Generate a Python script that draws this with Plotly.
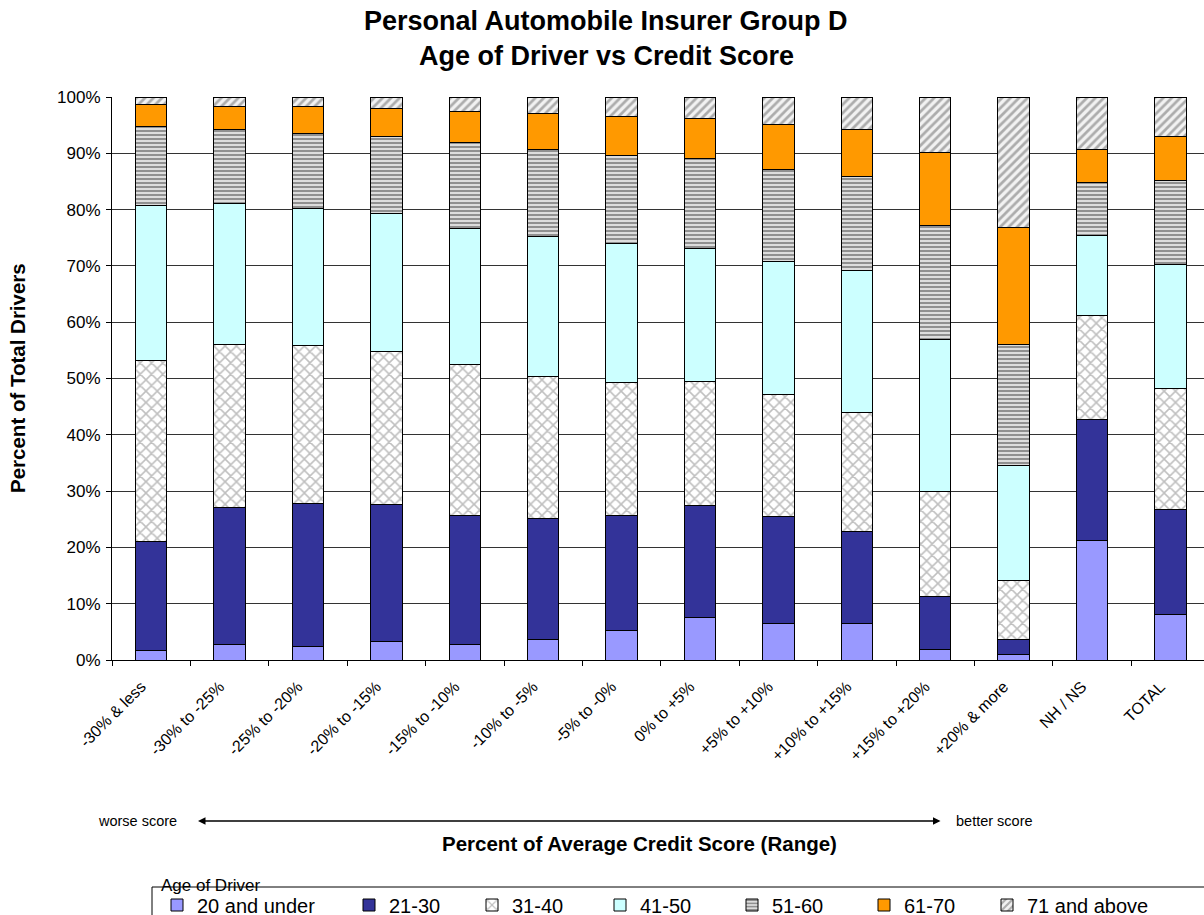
import plotly.graph_objects as go

# Credit score ranges (x categories)
categories = [
    "-30% & less", "-30% to -25%", "-25% to -20%", "-20% to -15%",
    "-15% to -10%", "-10% to -5%", "-5% to -0%", "0% to +5%",
    "+5% to +10%", "+10% to +15%", "+15% to +20%", "+20% & more",
    "NH / NS", "TOTAL",
]

# Share of drivers (%) in each age band, per credit score range
age_20_and_under = [1.7, 2.7, 2.4, 3.2, 2.8, 3.6, 5.3, 7.5, 6.5, 6.5, 1.9, 0.9, 21.2, 8.1]
age_21_30 = [19.3, 24.4, 25.4, 24.5, 22.9, 21.5, 20.4, 20.0, 19.0, 16.3, 9.4, 2.8, 21.6, 18.7]
age_31_40 = [32.2, 28.9, 28.0, 27.1, 26.8, 25.3, 23.6, 22.0, 21.7, 21.2, 18.7, 10.5, 18.4, 21.5]
age_41_50 = [27.5, 25.1, 24.4, 24.5, 24.2, 24.8, 24.6, 23.6, 23.5, 25.1, 26.9, 20.4, 14.2, 22.0]
age_51_60 = [14.1, 13.2, 13.4, 13.7, 15.2, 15.5, 15.7, 15.9, 16.5, 16.8, 20.3, 21.4, 9.5, 14.8]
age_61_70 = [3.9, 4.0, 4.8, 5.0, 5.5, 6.3, 6.9, 7.2, 8.0, 8.3, 13.0, 20.9, 5.8, 7.9]
age_71_above = [1.3, 1.7, 1.6, 2.0, 2.6, 3.0, 3.5, 3.8, 4.8, 5.8, 9.8, 23.1, 9.3, 7.0]

series_names = ["20 and under", "21-30", "31-40", "41-50", "51-60", "61-70", "71 and above"]
series_values = [age_20_and_under, age_21_30, age_31_40, age_41_50, age_51_60, age_61_70, age_71_above]

FONT = "Arial, 'Liberation Sans', sans-serif"
W, H = 1204, 915
L_M, R_M, T_M, B_M = 112, 0, 97, 255
PW = W - L_M - R_M
PH = H - T_M - B_M


def px_x(px):
    return (px - L_M) / PW


def px_y(py):
    return (H - B_M - py) / PH


styles = [
    dict(color="#9999FF"),
    dict(color="#333399"),
    dict(color="#FFFFFF", pattern=dict(shape="x", fgcolor="#808080", bgcolor="#FFFFFF", size=8, solidity=0.35)),
    dict(color="#CCFFFF"),
    dict(color="#BBBBBB", pattern=dict(shape="-", fgcolor="#444444", bgcolor="#DDDDDD", size=4, solidity=0.5)),
    dict(color="#FF9900"),
    dict(color="#EEEEEE", pattern=dict(shape="/", fgcolor="#666666", bgcolor="#F2F2F2", size=6, solidity=0.45)),
]

# legend entry text start positions (px)
legend_text_x = [195, 387, 510, 638, 770, 902, 1025]

fig = go.Figure()
for i, (name, vals, st) in enumerate(zip(series_names, series_values, styles)):
    marker = dict(color=st["color"], line=dict(color="black", width=1))
    if "pattern" in st:
        marker["pattern"] = st["pattern"]
    fig.add_trace(go.Bar(
        x=categories, y=vals, name=name, marker=marker, width=0.4,
        showlegend=True,
        legend="legend" if i == 0 else f"legend{i + 1}",
    ))

legend_layout = {}
for i, tx in enumerate(legend_text_x):
    key = "legend" if i == 0 else f"legend{i + 1}"
    legend_layout[key] = dict(
        orientation="h", x=px_x(tx - 38), xanchor="left",
        y=px_y(905), yanchor="middle",
        font=dict(family=FONT, size=20, color="black"),
        bgcolor="rgba(0,0,0,0)", borderwidth=0,
    )

fig.update_layout(
    width=W, height=H, autosize=False,
    margin=dict(l=L_M, r=R_M, t=T_M, b=B_M, pad=0, autoexpand=False),
    paper_bgcolor="white", plot_bgcolor="white",
    barmode="stack", bargap=0.6, showlegend=True,
    font=dict(family=FONT, color="black"),
    **legend_layout,
)

fig.update_xaxes(
    type="category", range=[-0.5, -0.5 + PW / 78.4],
    showline=True, linecolor="black", linewidth=1,
    ticks="outside", tickson="boundaries", ticklen=5, tickcolor="black",
    tickangle=-45, tickfont=dict(family=FONT, size=16, color="black"),
    ticklabelstandoff=10, ticklabelshift=-10,
    showgrid=False, zeroline=False,
)
fig.update_yaxes(
    range=[0, 100], dtick=10, ticksuffix="%",
    showline=True, linecolor="black", linewidth=1,
    ticks="outside", ticklen=5, tickcolor="black",
    tickfont=dict(family=FONT, size=17, color="black"),
    ticklabelstandoff=2,
    showgrid=True, gridcolor="#333333", gridwidth=1, zeroline=False,
)

annotations = [
    dict(text="<b>Personal Automobile Insurer Group D</b>", x=px_x(606), xref="paper",
         y=px_y(21), yref="paper", xanchor="center", yanchor="middle",
         showarrow=False, font=dict(family=FONT, size=27, color="black")),
    dict(text="<b>Age of Driver vs Credit Score</b>", x=px_x(606), xref="paper",
         y=px_y(56), yref="paper", xanchor="center", yanchor="middle",
         showarrow=False, font=dict(family=FONT, size=27, color="black")),
    dict(text="<b>Percent of Total Drivers</b>", x=px_x(17), xref="paper",
         y=px_y(378), yref="paper", xanchor="center", yanchor="middle",
         textangle=-90, showarrow=False, font=dict(family=FONT, size=20.5, color="black")),
    dict(text="<b>Percent of Average Credit Score (Range)</b>", x=px_x(639), xref="paper",
         y=px_y(843), yref="paper", xanchor="center", yanchor="middle",
         showarrow=False, font=dict(family=FONT, size=20.5, color="black")),
    dict(text="worse score", x=px_x(137.5), xref="paper", y=px_y(821), yref="paper",
         xanchor="center", yanchor="middle", showarrow=False,
         font=dict(family=FONT, size=14.5, color="black")),
    dict(text="better score", x=px_x(994.5), xref="paper", y=px_y(821), yref="paper",
         xanchor="center", yanchor="middle", showarrow=False,
         font=dict(family=FONT, size=14.5, color="black")),
    dict(text="", x=px_x(198), xref="paper", y=px_y(821), yref="paper",
         ax=942 - 198, ay=0, showarrow=True, arrowside="end+start",
         arrowhead=2, arrowsize=1, arrowwidth=1.5, arrowcolor="black"),
    dict(text="Age of Driver", x=px_x(159), xref="paper", y=px_y(885), yref="paper",
         xanchor="left", yanchor="middle", showarrow=False,
         font=dict(family=FONT, size=17, color="black")),
]
fig.update_layout(annotations=annotations)

# frame around the legend
fig.add_shape(type="rect", xref="paper", yref="paper",
              x0=px_x(152), x1=px_x(W + 10), y0=px_y(H + 10), y1=px_y(887),
              line=dict(color="black", width=1), fillcolor="rgba(0,0,0,0)", layer="below")

fig.write_html("out.html")
